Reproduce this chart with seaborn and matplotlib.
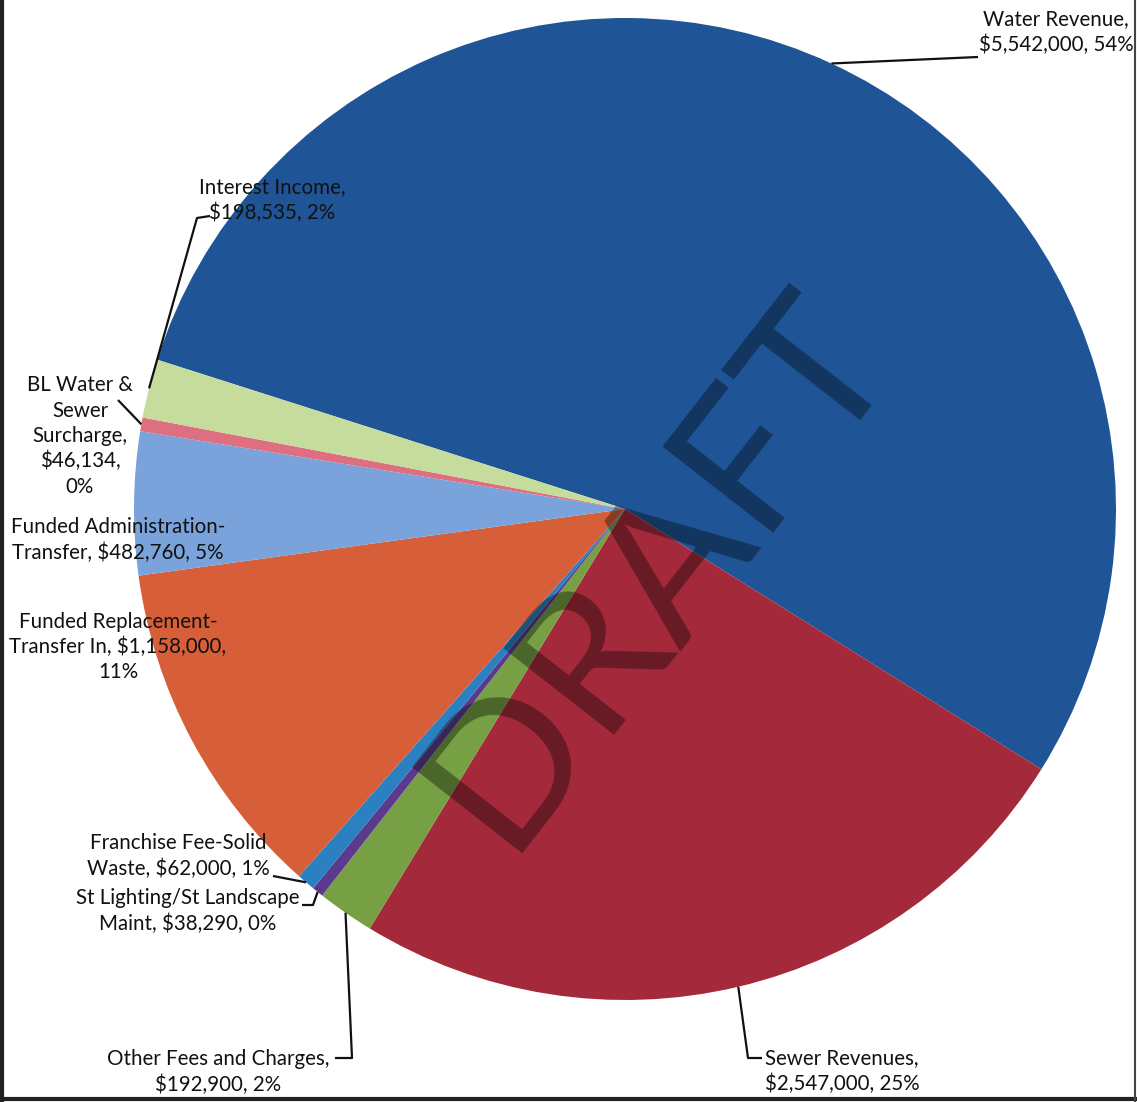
import matplotlib
matplotlib.use("Agg")
import matplotlib.pyplot as plt
import seaborn as sns
import numpy as np

# ---------------- data ----------------
categories = ["Water Revenue", "Sewer Revenues", "Other Fees and Charges",
              "St Lighting/St Landscape Maint", "Franchise Fee-Solid Waste",
              "Funded Replacement-Transfer In", "Funded Administration-Transfer",
              "BL Water & Sewer Surcharge", "Interest Income"]
values = [5542000, 2547000, 192900, 38290, 62000, 1158000, 482760, 46134, 198535]
label_texts = [
    "Water Revenue,\n$5,542,000, 54%",
    "Sewer Revenues,\n$2,547,000, 25%",
    "Other Fees and Charges,\n$192,900, 2%",
    "St Lighting/St Landscape\nMaint, $38,290, 0%",
    "Franchise Fee-Solid\nWaste, $62,000, 1%",
    "Funded Replacement-\nTransfer In, $1,158,000,\n11%",
    "Funded Administration-\nTransfer, $482,760, 5%",
    "BL Water &\nSewer\nSurcharge,\n$46,134,\n0%",
    "Interest Income,\n$198,535, 2%",
]
watermark = "DRAFT"

# ---------------- style ----------------
colors = ["#1F5597", "#A42A3B", "#76A043", "#5B3A8E", "#2A80C0",
          "#D65E38", "#7AA3DC", "#DD6F80", "#C5DC9C"]

sns.set_theme(style="white")
plt.rcParams["font.family"] = ["Lato", "DejaVu Sans"]

W, H = 1137, 1102
fig = plt.figure(figsize=(W / 100, H / 100), dpi=100)
ax = fig.add_axes([0, 0, 1, 1])

cx, cy, R = 625, 509, 491
wedges, _ = ax.pie(values, colors=colors, startangle=162.3, counterclock=False,
                   center=(cx, H - cy), radius=R, wedgeprops=dict(linewidth=0))
ax.set_xlim(0, W)
ax.set_ylim(0, H)
ax.set_aspect("equal")
ax.axis("off")

# label layout: (x, y in pixels top-down, ha), leader waypoints
layout = [
    ((1056, 32, "center"), [(978, 57)]),
    ((765, 1071, "left"), [(748, 1058), (762, 1058)]),
    ((218, 1072, "center"), [(352, 1058), (335, 1058)]),
    ((188, 911, "center"), [(313, 905), (302, 905)]),
    ((178, 856, "center"), [(273, 876)]),
    ((118, 647, "center"), None),
    ((118, 540, "center"), None),
    ((80, 436, "center"), [(118, 400)]),
    ((272, 200, "center"), [(197, 218), (210, 216)]),
]

for w, txt, ((tx, ty, ha), pts) in zip(wedges, label_texts, layout):
    ax.text(tx, H - ty, txt, ha=ha, va="center", multialignment=ha,
            fontsize=14.8, color="#111111", linespacing=1.32, parse_math=False,
            zorder=5)
    if pts:
        mid = np.deg2rad((w.theta1 + w.theta2) / 2)
        ax0 = w.center[0] + w.r * np.cos(mid)
        ay0 = w.center[1] + w.r * np.sin(mid)
        xs = [ax0] + [p[0] for p in pts]
        ys = [ay0] + [H - p[1] for p in pts]
        ax.plot(xs, ys, color="#111111", lw=1.6, zorder=4,
                solid_capstyle="butt")

# watermark
ax.text(505, H - 853, watermark, rotation=52, rotation_mode="anchor",
        ha="left", va="baseline", fontsize=142, color="black", alpha=0.36,
        family="Lato", zorder=6)

# scan borders
fig.add_artist(plt.Line2D([0.002, 0.002], [0, 1], color="#222222", lw=3,
                          transform=fig.transFigure))
fig.add_artist(plt.Line2D([0, 1], [0.003, 0.003], color="#222222", lw=3,
                          transform=fig.transFigure))
fig.add_artist(plt.Line2D([0.998, 0.998], [0, 1], color="#444444", lw=1.5,
                          transform=fig.transFigure))

fig.savefig("out.png", dpi=100, facecolor="white")
